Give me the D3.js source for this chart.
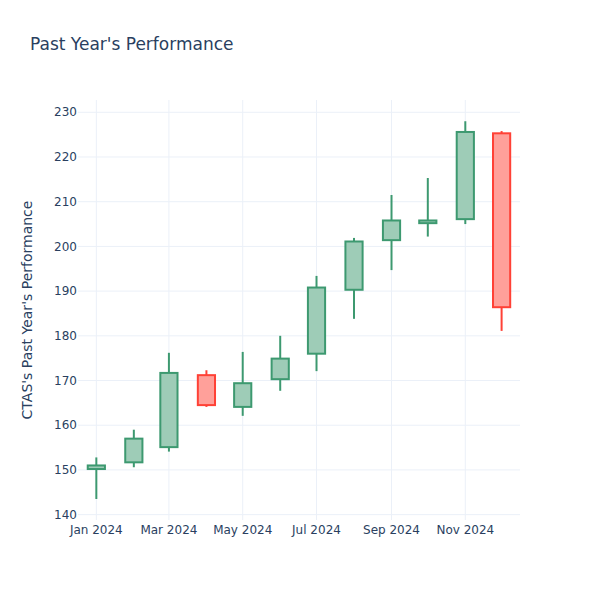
<!DOCTYPE html>
<html>
<head>
<meta charset="utf-8">
<script src="https://cdn.jsdelivr.net/npm/d3@7"></script>
<style>
  html, body { margin: 0; padding: 0; background: #fff; }
  svg { display: block; font-family: "DejaVu Sans", "Open Sans", sans-serif; }
</style>
</head>
<body>
<div id="chart"></div>
<script>
// monthly candles
const months = ["2024-01-01", "2024-02-01", "2024-03-01", "2024-04-01", "2024-05-01", "2024-06-01",
                "2024-07-01", "2024-08-01", "2024-09-01", "2024-10-01", "2024-11-01", "2024-12-01"];
const open  = [150.2, 151.7, 155.1, 171.2, 164.1, 170.3, 176.0, 190.3, 201.4, 205.2, 206.1, 225.3];
const high  = [152.8, 159.0, 176.2, 172.3, 176.4, 180.0, 193.4, 201.9, 211.5, 215.3, 228.0, 225.8];
const low   = [143.5, 150.6, 154.1, 164.1, 162.1, 167.7, 172.1, 183.8, 194.7, 202.2, 205.0, 181.1];
const close = [151.0, 157.0, 171.7, 164.5, 169.4, 174.9, 190.8, 201.1, 205.8, 205.8, 225.6, 186.4];
const yTicks = [140, 150, 160, 170, 180, 190, 200, 210, 220, 230];

const title = "Past Year's Performance";
const yTitle = "CTAS's Past Year's Performance";

const C = {
  up: "#3D9970",
  down: "#FF4136",
  grid: "#EBF0F8",
  text: "#2a3f5f",
};

const W = 600, H = 600,
  M = { t: 100, r: 80, b: 80, l: 80 },
  w = W - M.l - M.r,
  h = H - M.t - M.b;

const data = months.map((m, i) => ({
  date: new Date(m + "T00:00:00Z"),
  o: open[i], h: high[i], l: low[i], c: close[i],
}));

const svg = d3.select("#chart").append("svg")
  .attr("width", W).attr("height", H);

const x = d3.scaleUtc()
  .domain([new Date("2023-12-18T12:00:00Z"), new Date("2024-12-16T05:00:00Z")])
  .range([M.l, M.l + w]);
const y = d3.scaleLinear().domain([138.8, 232.75]).range([M.t + h, M.t]);

// grid
const xTicks = d3.utcMonth.every(2).range(new Date("2024-01-01T00:00:00Z"), new Date("2024-12-02T00:00:00Z"));
svg.append("g").selectAll("line").data(xTicks).join("line")
  .attr("x1", d => x(d)).attr("x2", d => x(d))
  .attr("y1", M.t).attr("y2", M.t + h)
  .attr("stroke", C.grid).attr("stroke-width", 1);
svg.append("g").selectAll("line").data(yTicks).join("line")
  .attr("x1", M.l - 2).attr("x2", M.l + w)
  .attr("y1", d => y(d)).attr("y2", d => y(d))
  .attr("stroke", C.grid).attr("stroke-width", 1);

// tick labels
svg.append("g").selectAll("text").data(yTicks).join("text")
  .attr("x", M.l - 3).attr("y", d => y(d)).attr("dy", "0.35em")
  .attr("text-anchor", "end").attr("fill", C.text).style("font-size", "12px")
  .text(d => d);
const fmtM = d3.utcFormat("%b %Y");
svg.append("g").selectAll("text").data(xTicks).join("text")
  .attr("x", d => x(d)).attr("y", M.t + h + 5).attr("dy", "0.71em")
  .attr("text-anchor", "middle").attr("fill", C.text).style("font-size", "12px")
  .text(d => fmtM(d));

// candles
const gaps = d3.pairs(data).map(([a, b]) => x(b.date) - x(a.date));
const bw = d3.min(gaps) * 0.49;
const cg = svg.append("g").selectAll("g").data(data).join("g");
const col = d => d.c >= d.o ? C.up : C.down;
cg.append("line")
  .attr("x1", d => x(d.date)).attr("x2", d => x(d.date))
  .attr("y1", d => y(d.h)).attr("y2", d => y(d.l))
  .attr("stroke", col).attr("stroke-width", 2);
cg.append("rect")
  .attr("x", d => x(d.date) - bw / 2).attr("width", bw)
  .attr("y", d => y(Math.max(d.o, d.c)))
  .attr("height", d => Math.max(0.5, Math.abs(y(d.o) - y(d.c))))
  .attr("fill", "#fff").attr("stroke", "none");
cg.append("rect")
  .attr("x", d => x(d.date) - bw / 2).attr("width", bw)
  .attr("y", d => y(Math.max(d.o, d.c)))
  .attr("height", d => Math.max(0.5, Math.abs(y(d.o) - y(d.c))))
  .attr("fill", col).attr("fill-opacity", 0.5)
  .attr("stroke", col).attr("stroke-width", 2);

// titles
svg.append("text").attr("x", 30).attr("y", 50)
  .attr("fill", C.text).style("font-size", "17px").text(title);
svg.append("text")
  .attr("transform", `translate(32,${M.t + h / 2}) rotate(-90)`)
  .attr("text-anchor", "middle").attr("fill", C.text).style("font-size", "14px")
  .text(yTitle);
</script>
</body>
</html>
